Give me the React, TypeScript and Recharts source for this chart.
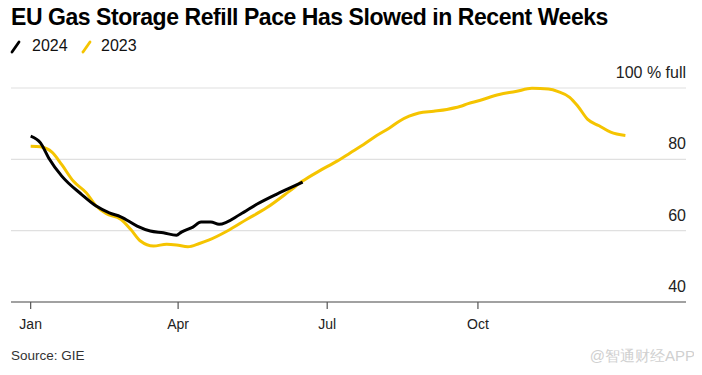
import React from 'react';
import { LineChart, Line, XAxis, YAxis, CartesianGrid } from 'recharts';

// day of year (Jan 1 = 0) and % full
const days2023 = [0, 6, 13, 19, 26, 34, 40, 46, 55, 61, 67, 75, 83, 89, 96, 103, 109, 120, 132, 144, 158, 166, 176, 187, 195, 203, 211, 219, 225, 231, 237, 246, 254, 262, 267, 274, 286, 296, 306, 316, 322, 329, 334, 340, 347, 354, 363];
const full2023 = [83.7, 83.5, 82.0, 78.5, 73.9, 70.6, 66.9, 64.8, 63.2, 60.4, 57.1, 55.7, 56.2, 56.0, 55.5, 56.4, 57.4, 59.9, 63.2, 66.4, 71.1, 73.9, 76.7, 79.5, 81.8, 84.1, 86.6, 88.8, 90.7, 92.1, 93.0, 93.5, 94.0, 94.8, 95.6, 96.5, 98.2, 99.0, 99.9, 99.7, 99.0, 97.4, 94.9, 91.2, 89.4, 87.6, 86.7];

const days2024 = [0, 6, 11, 19, 31, 40, 48, 55, 65, 73, 81, 89, 92, 99, 104, 110, 115, 128, 138, 150, 157, 166];
const full2024 = [86.5, 84.6, 80.4, 75.3, 70.2, 66.9, 65.0, 63.9, 61.3, 59.9, 59.4, 58.7, 59.6, 61.0, 62.4, 62.4, 61.8, 64.6, 67.4, 70.2, 71.7, 73.6];

const monthTicks = [0, 90, 181, 273];
const monthLabels = ['Jan', 'Apr', 'Jul', 'Oct'];
const yTicks = [40, 60, 80, 100];

const data2023 = days2023.map((d, i) => ({ day: d, v: full2023[i] }));
const data2024 = days2024.map((d, i) => ({ day: d, v: full2024[i] }));

const YELLOW = '#F5C400';
const FONT = '"Liberation Sans", Arial, sans-serif';

const YTick = (props: any) => {
  const { x, y, payload } = props;
  return (
    <text x={x} y={y - 10} textAnchor="end" fontSize={16} fill="#222" fontFamily={FONT}>
      {payload.value === 100 ? '100 % full' : String(payload.value)}
    </text>
  );
};

const Slash = ({ color, left }: { color: string; left: number }) => (
  <svg width="12" height="14" style={{ position: 'absolute', left, top: 40 }}>
    <line x1="2" y1="12" x2="9" y2="2" stroke={color} strokeWidth="2.8" strokeLinecap="round" />
  </svg>
);

const legendText: React.CSSProperties = { position: 'absolute', top: 37, fontSize: 16, color: '#111', lineHeight: 'normal' };

export default function App() {
  return (
    <div style={{ position: 'relative', width: 702, height: 375, margin: -8, background: '#fff', fontFamily: FONT, overflow: 'hidden' }}>
      <div style={{ position: 'absolute', left: 11, top: 4, fontSize: 23, fontWeight: 700, color: '#000', letterSpacing: -0.45, lineHeight: 'normal', whiteSpace: 'nowrap' }}>
        EU Gas Storage Refill Pace Has Slowed in Recent Weeks
      </div>
      <Slash color="#000" left={10} />
      <div style={{ ...legendText, left: 32 }}>2024</div>
      <Slash color={YELLOW} left={81} />
      <div style={{ ...legendText, left: 101 }}>2023</div>
      <div style={{ position: 'absolute', left: 0, top: 0 }}>
        <LineChart width={702} height={375} margin={{ top: 88, right: 15, bottom: 43, left: 11 }}>
          <CartesianGrid horizontal vertical={false} stroke="#e0e0e0" strokeWidth={1.2} />
          <XAxis
            type="number"
            dataKey="day"
            domain={[-12, 400]}
            ticks={monthTicks}
            tickFormatter={(v: number) => monthLabels[monthTicks.indexOf(v)]}
            axisLine={{ stroke: '#555', strokeWidth: 1.2 }}
            tickLine={{ stroke: '#555', strokeWidth: 1.2 }}
            tickSize={7}
            tick={{ fontSize: 14, fill: '#222', fontFamily: FONT }}
            tickMargin={10}
            allowDataOverflow
          />
          <YAxis
            orientation="right"
            type="number"
            domain={[40, 100]}
            ticks={yTicks}
            width={1}
            axisLine={false}
            tickLine={false}
            tickSize={0}
            tickMargin={0}
            interval={0}
            tick={(p: any) => <YTick {...p} />}
          />
          <Line data={data2023} dataKey="v" type="monotone" stroke={YELLOW} strokeWidth={3} dot={false} isAnimationActive={false} />
          <Line data={data2024} dataKey="v" type="monotone" stroke="#000" strokeWidth={3} dot={false} isAnimationActive={false} />
        </LineChart>
      </div>
      <div style={{ position: 'absolute', left: 11, top: 348, fontSize: 13.5, color: '#333' }}>Source: GIE</div>
      <div style={{ position: 'absolute', right: 7, top: 347, fontSize: 15, color: '#d0d0d0' }}>@智通财经APP</div>
    </div>
  );
}
